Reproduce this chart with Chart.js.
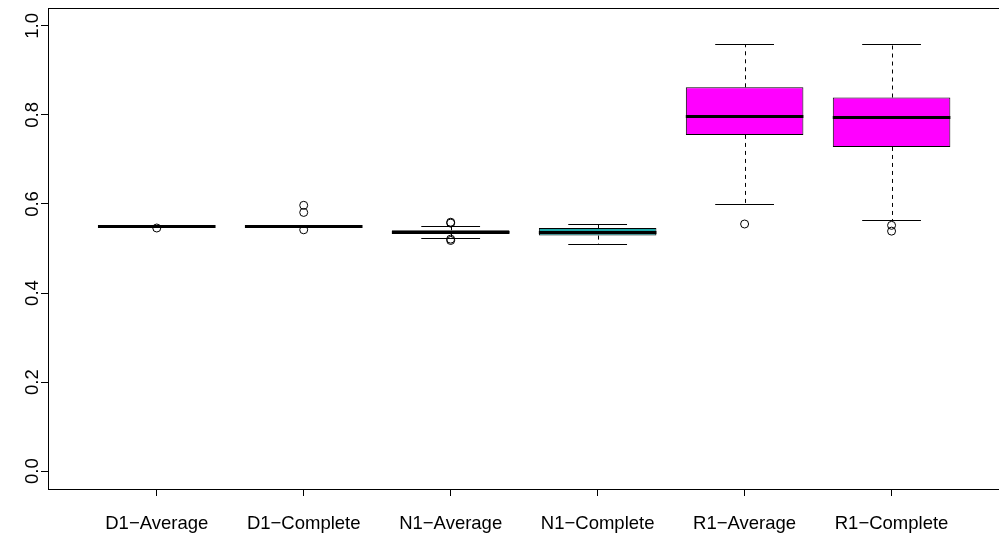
<!DOCTYPE html>
<html lang="en">
<head>
  <meta charset="UTF-8">
  <title>Boxplot</title>
  <script src="https://cdn.jsdelivr.net/npm/chart.js"></script>
  <style>
    html, body {
      margin: 0;
      padding: 0;
      background: #fff;
      overflow: hidden;
    }
    canvas {
      display: block;
    }
  </style>
</head>
<body>

  <canvas id="boxChart" width="999" height="537"></canvas>

  <script>
    const categories = ["D1\u2212Average", "D1\u2212Complete", "N1\u2212Average", "N1\u2212Complete", "R1\u2212Average", "R1\u2212Complete"];
    const lowerWhisker = [0.550, 0.550, 0.523, 0.510, 0.600, 0.564];
    const q1 = [0.550, 0.550, 0.535, 0.529, 0.755, 0.728];
    const median = [0.550, 0.550, 0.538, 0.538, 0.798, 0.796];
    const q3 = [0.550, 0.550, 0.541, 0.546, 0.862, 0.839];
    const upperWhisker = [0.550, 0.550, 0.551, 0.555, 0.959, 0.959];
    const outliers = [
      [0.546],
      [0.597, 0.581, 0.542],
      [0.557, 0.559, 0.518, 0.521],
      [],
      [0.555],
      [0.552, 0.539]
    ];
    const yTicks = [0, 0.2, 0.4, 0.6, 0.8, 1.0];
    const boxColors = ["#ffffff", "#ffffff", "#ffffff", "#1aa6a6", "#ff00ff", "#ff00ff"];

    const boxWidth = 0.8;      // in category units, like R's boxwex
    const capWidth = 0.4;      // staple = half the box
    const labelFont = { family: "'Liberation Sans', Arial, sans-serif", size: 18.5 };

    const outlierPoints = [];
    outliers.forEach((vals, i) => {
      vals.forEach(v => outlierPoints.push({ x: i + 1, y: v }));
    });

    // medians, whiskers and staples on top of the boxes, plus the plot frame
    const boxDecor = {
      id: "boxDecor",
      afterDatasetsDraw(chart) {
        const { ctx, scales: { x, y } } = chart;
        const px = v => Math.round(v) + 0.5;
        ctx.save();
        ctx.strokeStyle = "#000";
        categories.forEach((c, i) => {
          const cx = x.getPixelForValue(i + 1);
          const bl = x.getPixelForValue(i + 1 - boxWidth / 2);
          const br = x.getPixelForValue(i + 1 + boxWidth / 2);
          const sl = x.getPixelForValue(i + 1 - capWidth / 2);
          const sr = x.getPixelForValue(i + 1 + capWidth / 2);

          // whiskers (dashed)
          ctx.lineWidth = 1;
          ctx.setLineDash([4, 4]);
          ctx.beginPath();
          if (upperWhisker[i] > q3[i]) {
            ctx.moveTo(px(cx), y.getPixelForValue(q3[i]));
            ctx.lineTo(px(cx), y.getPixelForValue(upperWhisker[i]));
          }
          if (lowerWhisker[i] < q1[i]) {
            ctx.moveTo(px(cx), y.getPixelForValue(q1[i]));
            ctx.lineTo(px(cx), y.getPixelForValue(lowerWhisker[i]));
          }
          ctx.stroke();

          // staples
          ctx.setLineDash([]);
          ctx.beginPath();
          if (upperWhisker[i] > q3[i]) {
            const yu = px(y.getPixelForValue(upperWhisker[i]));
            ctx.moveTo(sl, yu);
            ctx.lineTo(sr, yu);
          }
          if (lowerWhisker[i] < q1[i]) {
            const yl = px(y.getPixelForValue(lowerWhisker[i]));
            ctx.moveTo(sl, yl);
            ctx.lineTo(sr, yl);
          }
          ctx.stroke();

          // median
          ctx.lineWidth = 3;
          ctx.beginPath();
          const ym = Math.round(y.getPixelForValue(median[i])) + 0.5;
          ctx.moveTo(bl, ym);
          ctx.lineTo(br, ym);
          ctx.stroke();
        });
        ctx.restore();
      },
      afterDraw(chart) {
        const { ctx, chartArea: a } = chart;
        ctx.save();
        ctx.strokeStyle = "#000";
        ctx.lineWidth = 1;
        const l = Math.round(a.left) + 0.5, t = Math.round(a.top) + 0.5;
        const r = Math.round(a.right) + 0.5, b = Math.round(a.bottom) + 0.5;
        ctx.strokeRect(l, t, r - l, b - t);
        ctx.restore();
      }
    };

    const ctx = document.getElementById("boxChart").getContext("2d");

    new Chart(ctx, {
      type: "bar",
      data: {
        datasets: [
          {
            type: "scatter",
            label: "outliers",
            data: outlierPoints,
            pointStyle: "circle",
            pointRadius: 4,
            pointBorderWidth: 1,
            pointBorderColor: "#000",
            pointBackgroundColor: "rgba(0,0,0,0)"
          },
          {
            type: "bar",
            label: "boxes",
            data: categories.map((c, i) => ({ x: i + 1, y: [q1[i], q3[i]] })),
            backgroundColor: boxColors,
            borderColor: "#000",
            borderWidth: 1,
            borderSkipped: false,
            categoryPercentage: 1,
            barPercentage: boxWidth
          }
        ]
      },
      options: {
        responsive: false,
        animation: false,
        events: [],
        // frame runs to the canvas edge; the right side falls just outside
        layout: { autoPadding: false, padding: { top: 8, right: 0, left: 0, bottom: 0 } },
        plugins: {
          legend: { display: false },
          tooltip: { enabled: false }
        },
        scales: {
          x: {
            type: "linear",
            offset: false,
            min: 0.26,
            max: 6.731,
            afterBuildTicks: s => { s.ticks = categories.map((c, i) => ({ value: i + 1 })); },
            afterFit: s => { s.height = 48; },
            ticks: {
              callback: v => categories[v - 1],
              color: "#000",
              font: labelFont,
              padding: 17,
              maxRotation: 0,
              autoSkip: false
            },
            grid: { display: true, offset: false, drawOnChartArea: false, drawTicks: true, tickLength: 7, color: "#000" },
            border: { display: true, color: "#000" }
          },
          y: {
            min: -0.04,
            max: 1.04,
            afterBuildTicks: s => { s.ticks = yTicks.map(v => ({ value: v })); },
            afterFit: s => { s.width = 48; },
            ticks: {
              callback: v => v.toFixed(1),
              color: "#000",
              font: labelFont,
              minRotation: 90,
              maxRotation: 90,
              crossAlign: "center",
              padding: -5
            },
            grid: { display: true, drawOnChartArea: false, drawTicks: true, tickLength: 7, color: "#000" },
            border: { display: true, color: "#000" }
          }
        }
      },
      plugins: [boxDecor]
    });
  </script>

</body>
</html>
